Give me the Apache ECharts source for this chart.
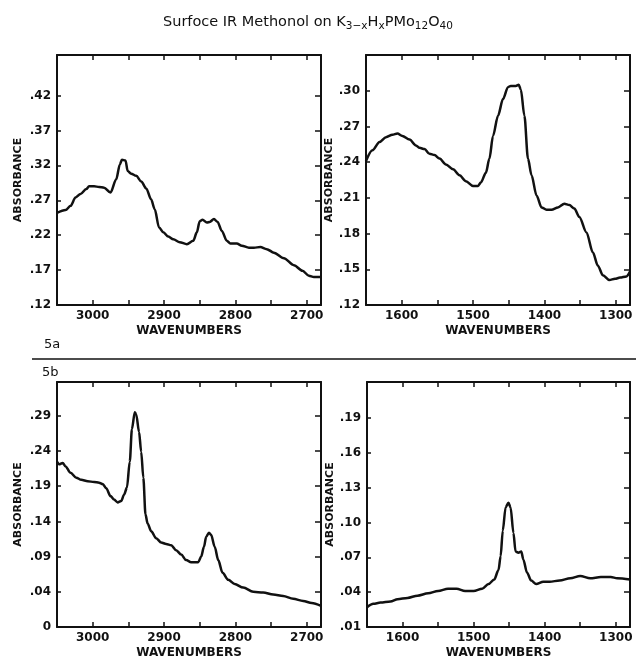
<!DOCTYPE html>
<html>
<head>
<meta charset="utf-8">
<title>Surface IR Methanol</title>
<script src="https://cdn.jsdelivr.net/npm/echarts@6.0.0/dist/echarts.min.js"></script>
<style>
  html, body { margin: 0; padding: 0; background: #fff; }
  #chart { width: 636px; height: 660px; }
</style>
</head>
<body>
<div id="chart"></div>
<script>
// 5a, C-H region (wavenumbers, absorbance)
var wn5aCH = [3050, 3038, 3031, 3024, 3017, 3009, 3005, 2998, 2991, 2984, 2975, 2967, 2962, 2959, 2954, 2951, 2946, 2939, 2932, 2925, 2918, 2913, 2907, 2901, 2894, 2887, 2878, 2868, 2859, 2854, 2850, 2846, 2840, 2836, 2830, 2825, 2819, 2812, 2807, 2798, 2791, 2781, 2774, 2765, 2756, 2746, 2732, 2718, 2706, 2697, 2690, 2680];
var abs5aCH = [0.252, 0.256, 0.262, 0.274, 0.279, 0.286, 0.290, 0.290, 0.289, 0.288, 0.281, 0.300, 0.321, 0.328, 0.327, 0.312, 0.308, 0.305, 0.297, 0.287, 0.271, 0.257, 0.231, 0.224, 0.218, 0.214, 0.210, 0.207, 0.212, 0.224, 0.240, 0.242, 0.238, 0.239, 0.243, 0.239, 0.226, 0.212, 0.208, 0.208, 0.205, 0.202, 0.202, 0.203, 0.200, 0.195, 0.187, 0.177, 0.169, 0.162, 0.160, 0.160];

// 5a, C-O-H bending region
var wn5aOH = [1650, 1641, 1631, 1622, 1613, 1606, 1599, 1589, 1580, 1575, 1568, 1561, 1554, 1547, 1538, 1528, 1519, 1510, 1500, 1493, 1489, 1482, 1477, 1472, 1465, 1458, 1451, 1447, 1440, 1436, 1433, 1428, 1423, 1418, 1411, 1404, 1397, 1390, 1381, 1372, 1365, 1358, 1351, 1341, 1332, 1325, 1318, 1309, 1301, 1294, 1285, 1280];
var abs5aOH = [0.241, 0.250, 0.257, 0.261, 0.263, 0.264, 0.262, 0.259, 0.254, 0.252, 0.251, 0.247, 0.246, 0.243, 0.238, 0.234, 0.229, 0.224, 0.220, 0.220, 0.223, 0.231, 0.243, 0.262, 0.279, 0.293, 0.303, 0.304, 0.304, 0.305, 0.301, 0.279, 0.243, 0.229, 0.212, 0.202, 0.200, 0.200, 0.202, 0.205, 0.204, 0.201, 0.194, 0.181, 0.164, 0.153, 0.145, 0.141, 0.142, 0.143, 0.144, 0.148];

// 5b, C-H region
var wn5bCH = [3050, 3047, 3042, 3038, 3031, 3023, 3016, 3007, 2998, 2991, 2986, 2981, 2975, 2970, 2965, 2960, 2956, 2952, 2948, 2945, 2941, 2939, 2935, 2932, 2929, 2926, 2923, 2918, 2911, 2904, 2897, 2890, 2883, 2876, 2869, 2862, 2852, 2848, 2844, 2841, 2837, 2834, 2829, 2824, 2818, 2810, 2801, 2789, 2775, 2761, 2747, 2733, 2719, 2705, 2693, 2680];
var abs5bCH = [0.225, 0.221, 0.223, 0.218, 0.209, 0.202, 0.199, 0.197, 0.196, 0.195, 0.193, 0.187, 0.176, 0.171, 0.167, 0.169, 0.178, 0.188, 0.225, 0.271, 0.295, 0.292, 0.267, 0.239, 0.202, 0.150, 0.137, 0.126, 0.116, 0.110, 0.108, 0.106, 0.099, 0.093, 0.085, 0.082, 0.082, 0.090, 0.104, 0.118, 0.124, 0.121, 0.104, 0.085, 0.067, 0.057, 0.051, 0.046, 0.040, 0.039, 0.036, 0.034, 0.030, 0.027, 0.024, 0.020];

// 5b, C-O-H bending region
var wn5bOH = [1650, 1641, 1631, 1617, 1607, 1593, 1579, 1564, 1550, 1536, 1524, 1512, 1500, 1488, 1479, 1471, 1465, 1462, 1459, 1455, 1451, 1448, 1444, 1441, 1437, 1433, 1430, 1425, 1419, 1412, 1402, 1393, 1379, 1364, 1350, 1336, 1321, 1307, 1298, 1280];
var abs5bOH = [0.027, 0.030, 0.031, 0.032, 0.034, 0.035, 0.037, 0.039, 0.041, 0.043, 0.043, 0.041, 0.041, 0.043, 0.047, 0.051, 0.059, 0.071, 0.093, 0.113, 0.117, 0.113, 0.091, 0.075, 0.074, 0.075, 0.068, 0.057, 0.050, 0.047, 0.049, 0.049, 0.050, 0.052, 0.054, 0.052, 0.053, 0.053, 0.052, 0.051];

// axis ticks and labels
var chTicks = [3000, 2950, 2900, 2850, 2800, 2750, 2700];
var chLabels = [3000, 2900, 2800, 2700];
var ohTicks = [1600, 1550, 1500, 1450, 1400, 1350, 1300];
var ohLabels = [1600, 1500, 1400, 1300];
var y5aCH = [0.12, 0.17, 0.22, 0.27, 0.32, 0.37, 0.42];
var y5aOH = [0.12, 0.15, 0.18, 0.21, 0.24, 0.27, 0.30];
var y5bCH = [-0.01, 0.04, 0.09, 0.14, 0.19, 0.24, 0.29]; // lowest one is printed "0" in the original
var y5bOH = [0.01, 0.04, 0.07, 0.10, 0.13, 0.16, 0.19];

var ink = '#111';
var font = 'DejaVu Sans';

function zip(xs, ys) {
    return xs.map(function (x, i) { return [x, ys[i]]; });
}

function yFmt(v) {
    if (v < 0) return '0';
    return v.toFixed(2).replace(/^0/, '');
}

var grids = [
    { left: 57, top: 55, width: 264, height: 250 },
    { left: 366, top: 55, width: 264, height: 250 },
    { left: 57, top: 382, width: 264, height: 250 },
    { left: 367, top: 382, width: 263, height: 250 }
];
var panels = [
    { xmin: 2680, xmax: 3050, xt: chTicks, xl: chLabels, ymin: 0.12, ymax: 0.478, yt: y5aCH, d: zip(wn5aCH, abs5aCH), nameGap: 33 },
    { xmin: 1280, xmax: 1650, xt: ohTicks, xl: ohLabels, ymin: 0.12, ymax: 0.33, yt: y5aOH, d: zip(wn5aOH, abs5aOH), nameGap: 24 },
    { xmin: 2680, xmax: 3050, xt: chTicks, xl: chLabels, ymin: -0.01, ymax: 0.338, yt: y5bCH, d: zip(wn5bCH, abs5bCH), nameGap: 33 },
    { xmin: 1280, xmax: 1650, xt: ohTicks, xl: ohLabels, ymin: 0.01, ymax: 0.221, yt: y5bOH, d: zip(wn5bOH, abs5bOH), nameGap: 24 }
];

var xAxes = [], yAxes = [], series = [];
var line = { show: true, onZero: false, lineStyle: { color: ink, width: 2 } };

panels.forEach(function (p, i) {
    xAxes.push({
        type: 'value', gridIndex: i, position: 'bottom', inverse: true,
        min: p.xmin, max: p.xmax,
        axisLine: line,
        axisTick: { show: true, inside: true, length: 5, customValues: p.xt, lineStyle: { color: ink, width: 1.5 } },
        axisLabel: {
            customValues: p.xl, formatter: function (v) { return String(v); },
            color: ink, fontFamily: font, fontSize: 12, fontWeight: 'bold', margin: 5
        },
        splitLine: { show: false },
        name: 'WAVENUMBERS', nameLocation: 'middle', nameGap: 20,
        nameTextStyle: { color: ink, fontFamily: font, fontSize: 12, fontWeight: 'bold' }
    });
    xAxes.push({
        type: 'value', gridIndex: i, position: 'top', inverse: true,
        min: p.xmin, max: p.xmax,
        axisLine: line,
        axisTick: { show: true, inside: true, length: 5, customValues: p.xt, lineStyle: { color: ink, width: 1.5 } },
        axisLabel: { show: false },
        splitLine: { show: false }
    });
    yAxes.push({
        type: 'value', gridIndex: i, position: 'left',
        min: p.ymin, max: p.ymax,
        axisLine: line,
        axisTick: { show: true, inside: true, length: 4, customValues: p.yt, lineStyle: { color: ink, width: 1.5 } },
        axisLabel: { customValues: p.yt, formatter: yFmt, color: ink, fontFamily: font, fontSize: 12, fontWeight: 'bold', margin: 6 },
        splitLine: { show: false },
        name: 'ABSORBANCE', nameLocation: 'middle', nameGap: p.nameGap,
        nameTextStyle: { color: ink, fontFamily: font, fontSize: 11, fontWeight: 'bold' }
    });
    yAxes.push({
        type: 'value', gridIndex: i, position: 'right',
        min: p.ymin, max: p.ymax,
        axisLine: line,
        axisTick: { show: true, inside: true, length: 6, customValues: p.yt, lineStyle: { color: ink, width: 1.5 } },
        axisLabel: { show: false },
        splitLine: { show: false }
    });
    series.push({
        type: 'line', xAxisIndex: i * 2, yAxisIndex: i * 2,
        data: p.d, showSymbol: false, smooth: 0.3, smoothMonotone: 'x',
        lineStyle: { color: ink, width: 2.5 }, silent: true
    });
});

var myChart = echarts.init(document.getElementById('chart'), null, { renderer: 'canvas' });
var option = {
    backgroundColor: '#fff',
    animation: false,
    title: {
        text: 'Surfoce IR Methonol on K{s|3\u2212x}H{s|x}PMo{s|12}O{s|40}',
        left: 158, top: 7,
        textStyle: {
            color: ink, fontFamily: font, fontSize: 14.5, fontWeight: 'normal',
            rich: { s: { fontFamily: font, fontSize: 10.5, color: ink, padding: [9, 0, 0, 0] } }
        }
    },
    grid: grids,
    xAxis: xAxes,
    yAxis: yAxes,
    series: series,
    graphic: [
        { type: 'line', shape: { x1: 32, y1: 359, x2: 636, y2: 359 }, style: { stroke: ink, lineWidth: 1.5 } },
        { type: 'text', left: 44, top: 338, style: { text: '5a', fill: ink, font: '13px "DejaVu Sans"' } },
        { type: 'text', left: 42, top: 366, style: { text: '5b', fill: ink, font: '13px "DejaVu Sans"' } }
    ]
};
myChart.setOption(option);
</script>
</body>
</html>
